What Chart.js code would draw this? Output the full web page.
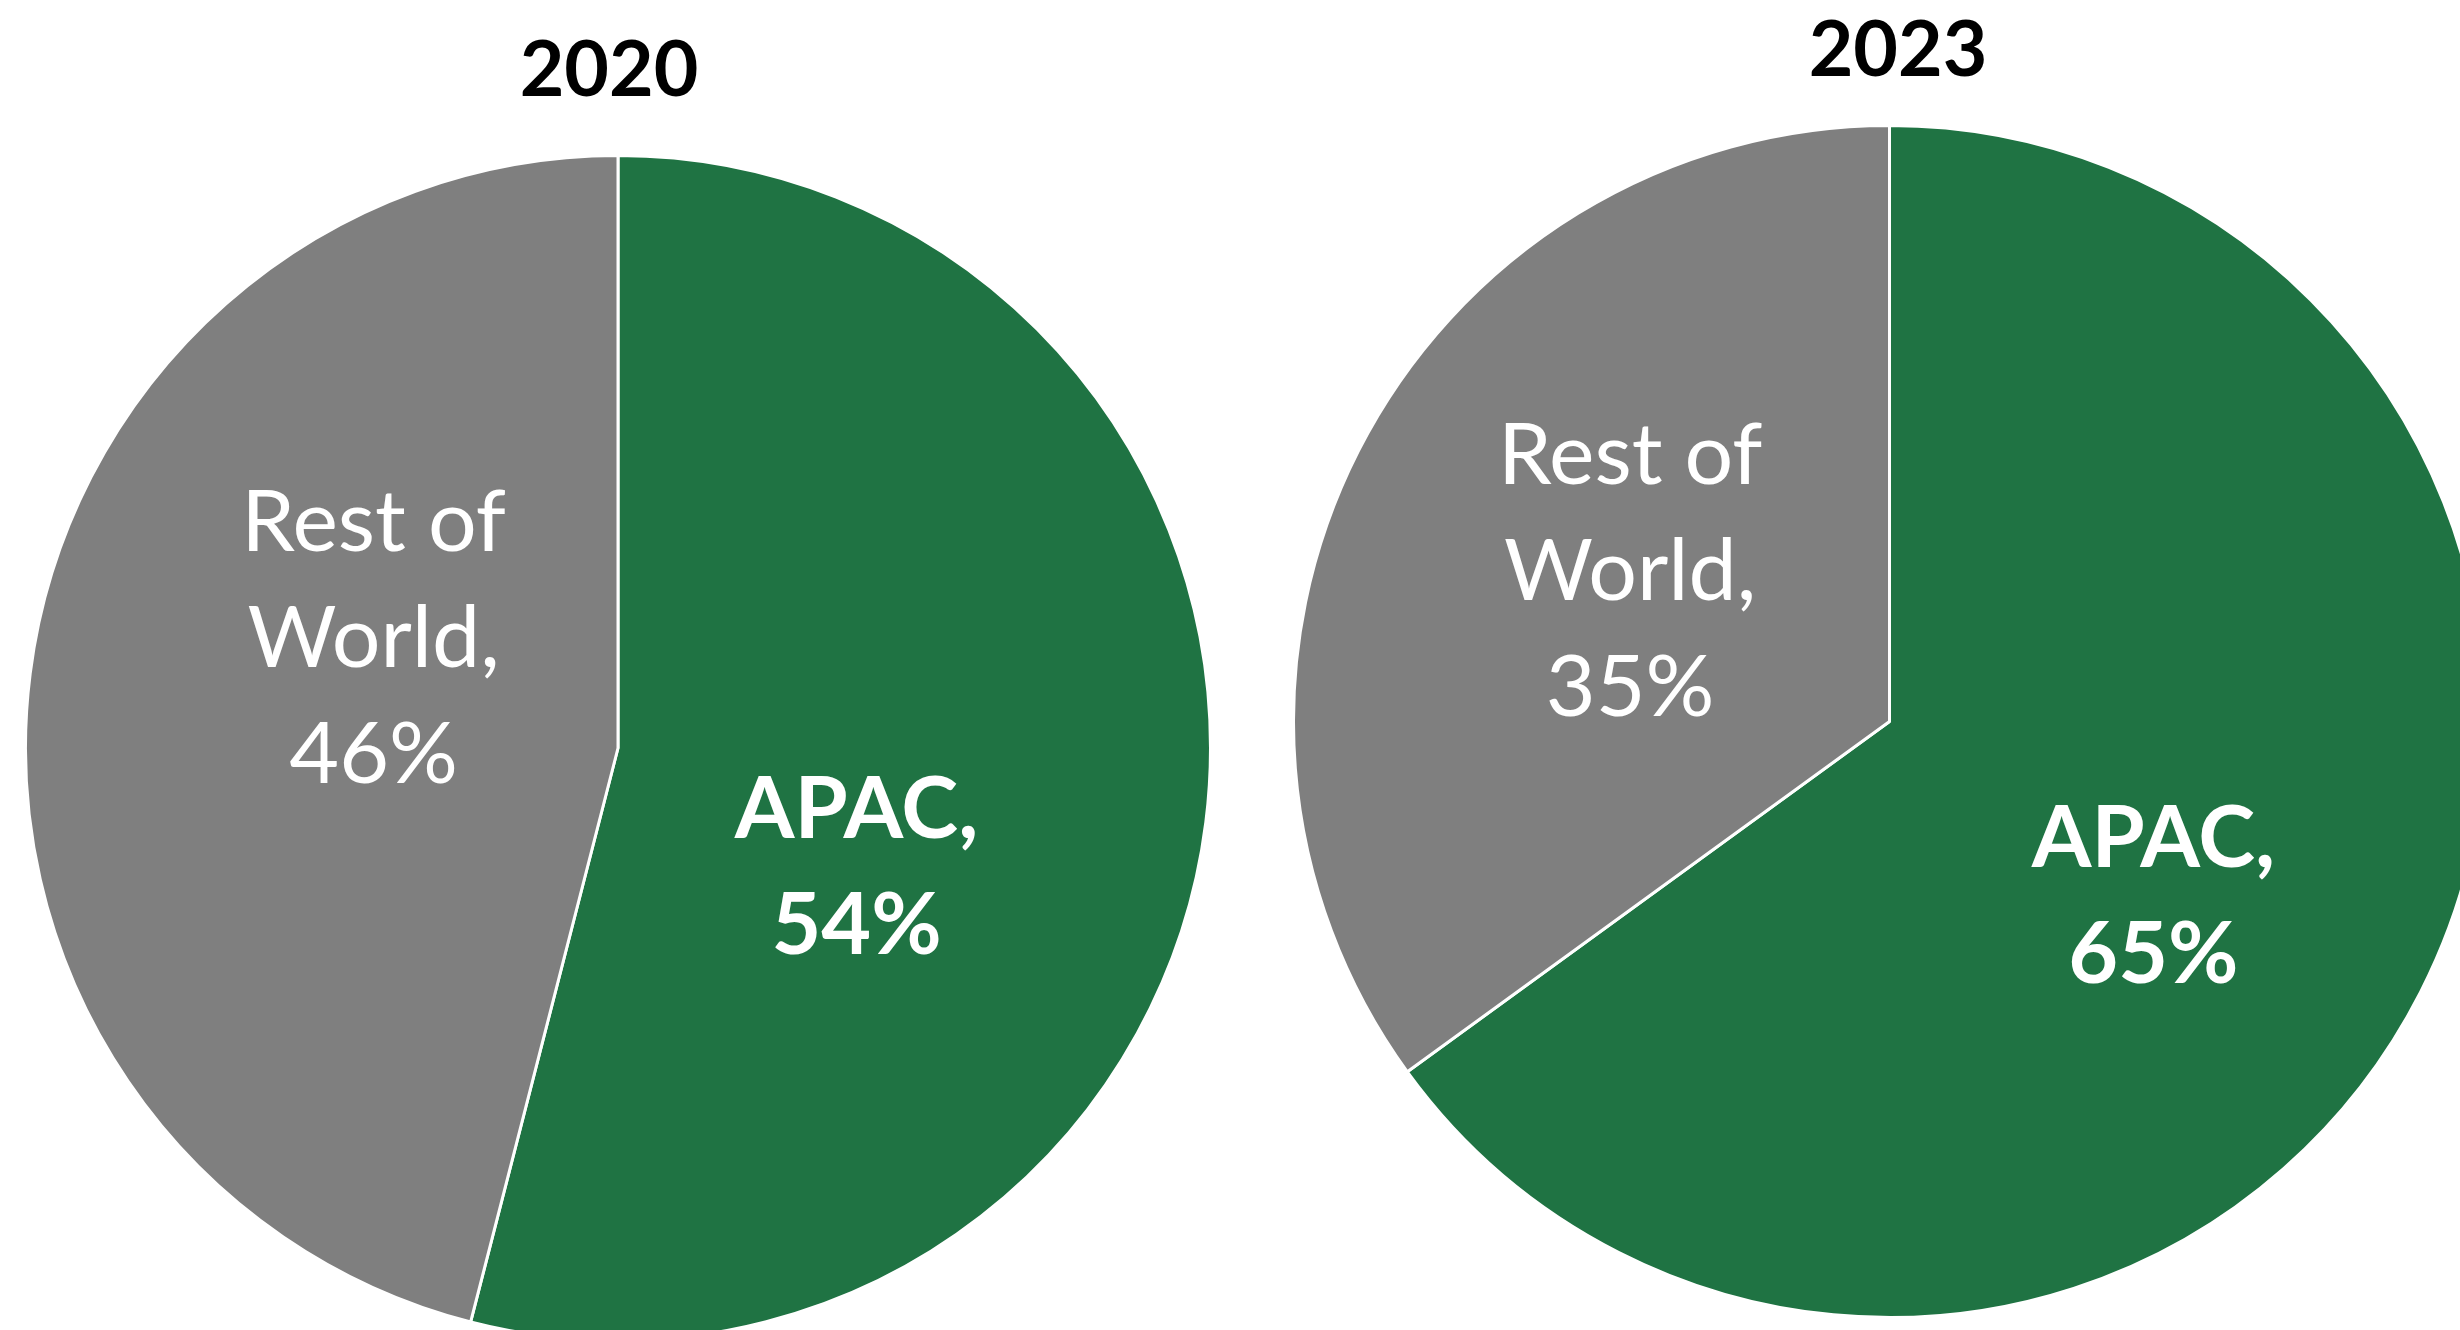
<!DOCTYPE html>
<html>
<head>
<meta charset="utf-8">
<script src="https://cdn.jsdelivr.net/npm/chart.js@4.4.1/dist/chart.umd.min.js"></script>
<style>
  html, body { margin: 0; padding: 0; width: 2460px; height: 1330px; overflow: hidden; background: #ffffff; }
  .pie { position: absolute; }
  .title { position: absolute; font-family: Lato, "Noto Sans", sans-serif; font-weight: 700; font-size: 77px;
           color: #000; transform: translate(-50%, -50%); line-height: 1; white-space: nowrap; }
</style>
</head>
<body>
<div class="title" style="left:609px; top:66px;">2020</div>
<div class="title" style="left:1898px; top:46px;">2023</div>
<div class="pie" style="left:24px; top:154px; width:1188px; height:1188px;"><canvas id="pie2020" width="1188" height="1188"></canvas></div>
<div class="pie" style="left:1292px; top:124px; width:1195px; height:1195px;"><canvas id="pie2023" width="1195" height="1195"></canvas></div>
<script>
// Regional share of the total, by year
const categories = ['APAC', 'Rest of World'];
const share2020 = [54, 46];
const share2023 = [65, 35];

const sliceColors = ['#1F7343', '#7F7F7F'];
const labelWeights = ['700', '400'];

// Where each slice's label sits: [degrees clockwise from 12 o'clock, fraction of radius]
const labelSpots2020 = [[116, 0.448], [294.7, 0.454]];
const labelSpots2023 = [[123, 0.528], [300.5, 0.505]];

const sliceLabels = {
  id: 'sliceLabels',
  afterDatasetsDraw(chart, args, opts) {
    const ctx = chart.ctx;
    const meta = chart.getDatasetMeta(0);
    const values = chart.data.datasets[0].data;
    meta.data.forEach((arc, i) => {
      const spot = opts.spots[i];
      const ang = (spot[0] - 90) * Math.PI / 180;
      const r = arc.outerRadius * spot[1];
      const cx = arc.x + Math.cos(ang) * r;
      const cy = arc.y + Math.sin(ang) * r;
      ctx.save();
      ctx.font = labelWeights[i] + ' 86px Lato, "Noto Sans", sans-serif';
      ctx.fillStyle = '#ffffff';
      ctx.textAlign = 'center';
      ctx.textBaseline = 'middle';
      // wrap the category name, then the value on its own line
      const words = (chart.data.labels[i] + ',').split(' ');
      const lines = [];
      let cur = '';
      words.forEach(w => {
        const test = cur ? cur + ' ' + w : w;
        if (cur && ctx.measureText(test).width > 300) { lines.push(cur); cur = w; }
        else cur = test;
      });
      lines.push(cur);
      lines.push(values[i] + '%');
      const lh = 116;
      const top = cy - (lines.length - 1) * lh / 2;
      lines.forEach((t, k) => ctx.fillText(t, cx, top + k * lh + 4));
      ctx.restore();
    });
  }
};

function makePie(id, values, spots) {
  return new Chart(document.getElementById(id), {
    type: 'pie',
    data: {
      labels: categories,
      datasets: [{
        data: values,
        backgroundColor: sliceColors,
        borderColor: '#ffffff',
        borderWidth: 3,
        hoverOffset: 0
      }]
    },
    options: {
      responsive: false,
      animation: false,
      layout: { padding: 0 },
      plugins: {
        legend: { display: false },
        tooltip: { enabled: false },
        sliceLabels: { spots: spots }
      }
    },
    plugins: [sliceLabels]
  });
}

makePie('pie2020', share2020, labelSpots2020);
makePie('pie2023', share2023, labelSpots2023);
</script>
</body>
</html>
